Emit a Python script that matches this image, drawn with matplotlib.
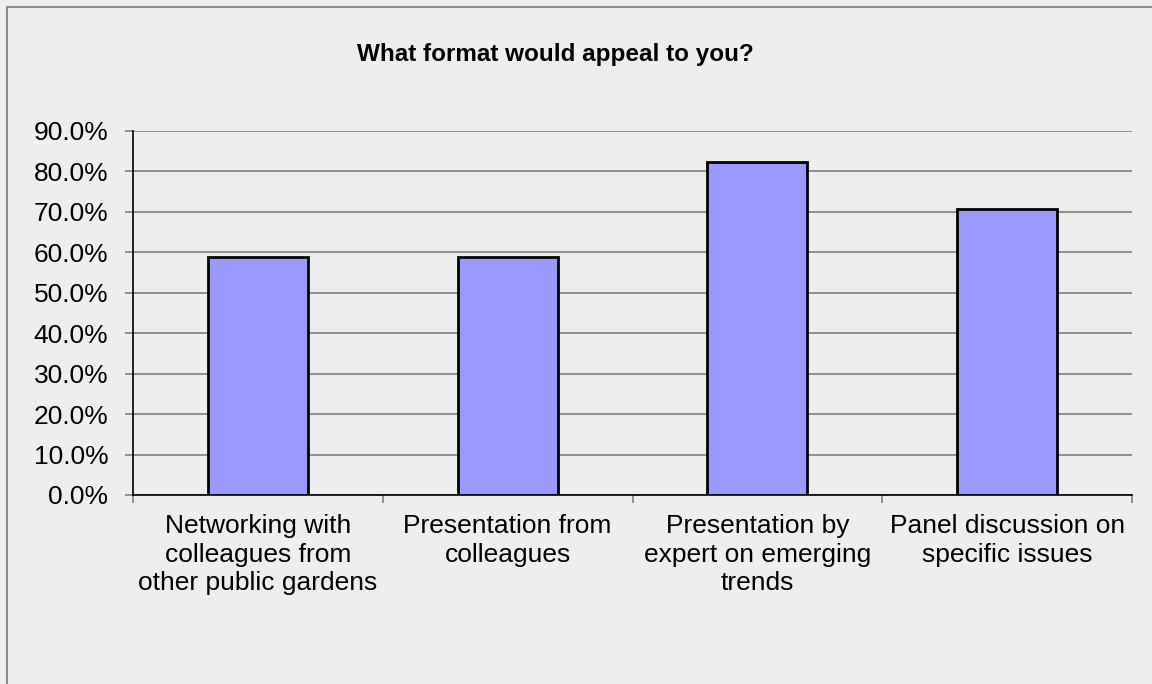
import matplotlib
matplotlib.use("Agg")
import matplotlib.pyplot as plt
from matplotlib.patches import Rectangle
from matplotlib.ticker import FuncFormatter, FixedLocator, NullFormatter
import numpy as np

categories = [
    "Networking with\ncolleagues from\nother public gardens",
    "Presentation from\ncolleagues",
    "Presentation by\nexpert on emerging\ntrends",
    "Panel discussion on\nspecific issues",
]
values = [58.8, 58.8, 82.4, 70.6]
title = "What format would appeal to you?"
yticks = [0, 10, 20, 30, 40, 50, 60, 70, 80, 90]

W, H = 1152, 684
fig = plt.figure(figsize=(W / 100, H / 100), dpi=100)
bg = "#eeeeee"
fig.patch.set_facecolor(bg)

# figure border (left and top visible)
fig.add_artist(Rectangle((7 / W, -0.05), 1.2, (H - 7) / H + 0.05, transform=fig.transFigure,
                         fill=False, edgecolor="#8c8c8c", linewidth=1.5))

ax = fig.add_axes([133 / W, 1 - 495 / H, (1132 - 133) / W, (495 - 131) / H])
ax.set_facecolor(bg)

x = np.arange(len(categories))
ax.bar(x, values, width=0.4, color="#9999ff", edgecolor="black", linewidth=2.0, zorder=3)

ax.set_xlim(-0.5, len(categories) - 0.5)
ax.set_ylim(0, 90)
ax.set_yticks(yticks)
ax.yaxis.set_major_formatter(FuncFormatter(lambda v, p: f"{v:.1f}%"))
ax.yaxis.grid(True, color="#7f7f7f", linewidth=1.2, zorder=0)
ax.set_axisbelow(True)

ax.xaxis.set_major_locator(FixedLocator(np.arange(-0.5, len(categories), 1.0)))
ax.xaxis.set_major_formatter(NullFormatter())
ax.xaxis.set_minor_locator(FixedLocator(x))
ax.set_xticklabels(categories, minor=True, fontsize=19, fontfamily="Liberation Sans",
                   linespacing=1.23)
ax.tick_params(axis="x", which="minor", length=0, pad=14)
ax.tick_params(axis="x", which="major", length=5.5, color="#7f7f7f", width=1.2)
ax.tick_params(axis="y", length=5.8, color="#7f7f7f", width=1.2, pad=12, labelsize=19)
for lab in ax.get_yticklabels():
    lab.set_fontfamily("Liberation Sans")

for s in ["top", "right"]:
    ax.spines[s].set_visible(False)
ax.spines["left"].set_color("black")
ax.spines["bottom"].set_color("black")
ax.spines["left"].set_linewidth(1.2)
ax.spines["bottom"].set_linewidth(1.2)

fig.text(555 / W, 1 - 61 / H, title, ha="center", va="baseline", fontsize=17.5,
         fontweight="bold", fontfamily="Liberation Sans")

fig.savefig("out.png", dpi=100, facecolor=bg)
